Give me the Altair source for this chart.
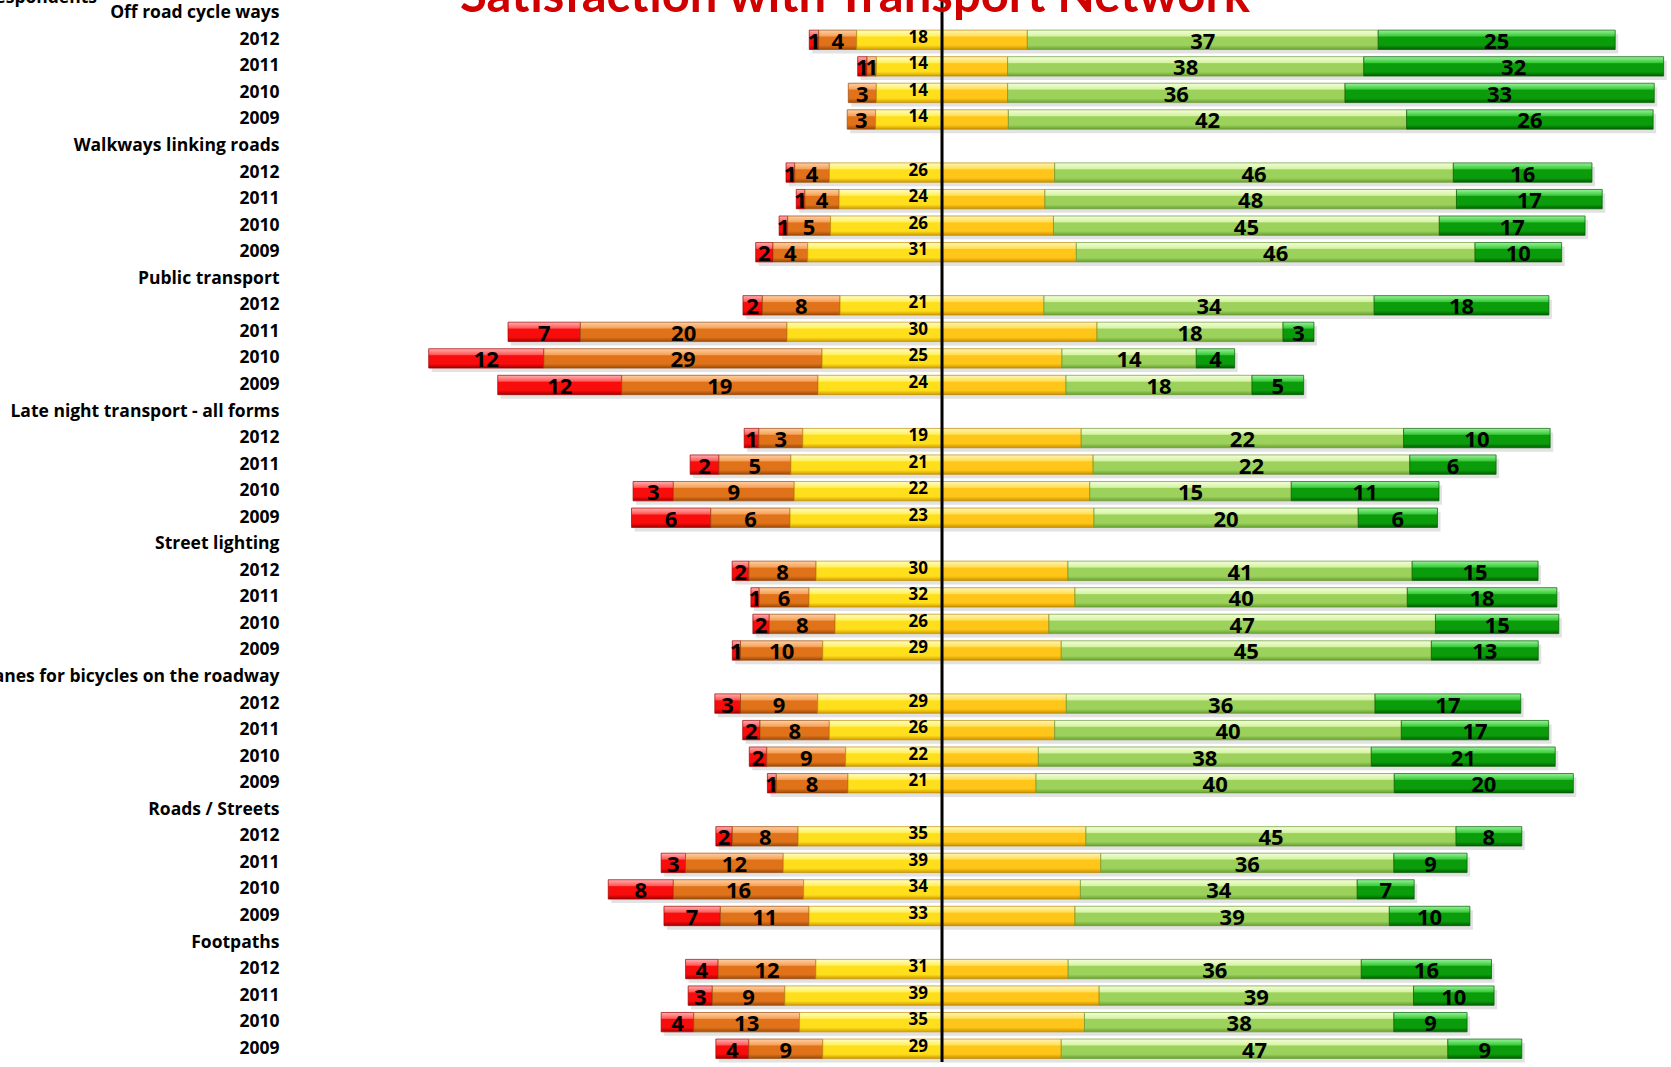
import altair as alt
import pandas as pd

# Survey categories (top to bottom) and survey years within each
categories = [
    "Off road cycle ways",
    "Walkways linking roads",
    "Public transport",
    "Late night transport - all forms",
    "Street lighting",
    "Lanes for bicycles on the roadway",
    "Roads / Streets",
    "Footpaths",
]
years = ["2012", "2011", "2010", "2009"]

# % of respondents per rating, listed category by category, years 2012 -> 2009
very_dissatisfied = [1, 1, 0, 0,   1, 1, 1, 2,   2, 7, 12, 12,   1, 2, 3, 6,
                     2, 1, 2, 1,   3, 2, 2, 1,   2, 3, 8, 7,     4, 3, 4, 4]
dissatisfied = [4, 1, 3, 3,   4, 4, 5, 4,   8, 20, 29, 19,   3, 5, 9, 6,
                8, 6, 8, 10,  9, 8, 9, 8,   8, 12, 16, 11,   12, 9, 13, 9]
neutral = [18, 14, 14, 14,   26, 24, 26, 31,   21, 30, 25, 24,   19, 21, 22, 23,
           30, 32, 26, 29,   29, 26, 22, 21,   35, 39, 34, 33,   31, 39, 35, 29]
satisfied = [37, 38, 36, 42,   46, 48, 45, 46,   34, 18, 14, 18,   22, 22, 15, 20,
             41, 40, 47, 45,   36, 40, 38, 40,   45, 36, 34, 39,   36, 39, 38, 47]
very_satisfied = [25, 32, 33, 26,   16, 17, 17, 10,   18, 3, 4, 5,   10, 6, 11, 6,
                  15, 18, 15, 13,   17, 17, 21, 20,   8, 9, 7, 10,   16, 10, 9, 9]

# Row order on the y axis: a header row for each category followed by its years
row_keys = []
for c in categories:
    row_keys.append(c)
    for y in years:
        row_keys.append(f"{c}|{y}")

# Each bar shows the ratings as shares of those who gave a rating, so every
# bar has the same total length; neutral is split evenly around zero.
segs = []
rows = []
i = 0
for c in categories:
    for y in years:
        key = f"{c}|{y}"
        r, o, n, s, v = (very_dissatisfied[i], dissatisfied[i], neutral[i],
                         satisfied[i], very_satisfied[i])
        k = 100.0 / (r + o + n + s + v)
        h = n / 2
        parts = [
            ("vd", -(h + o + r), -(h + o), r),
            ("d", -(h + o), -h, o),
            ("nl", -h, 0, n),
            ("nr", 0, h, n),
            ("s", h, h + s, s),
            ("vs", h + s, h + s + v, v),
        ]
        for seg, a, b, val in parts:
            if val > 0:
                segs.append({"key": key, "seg": seg, "start": a * k, "end": b * k,
                             "mid": (a + b) / 2 * k, "zero": 0, "val": val})
        rows.append({"key": key, "start": -(h + o + r) * k, "end": (h + s + v) * k})
        i += 1

df = pd.DataFrame(segs)
rows_df = pd.DataFrame(rows)


def grad(top, light, base, dark):
    # bevelled look: bright upper band, flat middle, darker lower edge
    return {
        "gradient": "linear", "x1": 0, "y1": 0, "x2": 0, "y2": 1,
        "stops": [
            {"offset": 0, "color": top},
            {"offset": 0.3, "color": light},
            {"offset": 0.36, "color": base},
            {"offset": 0.78, "color": base},
            {"offset": 1, "color": dark},
        ],
    }


styles = {
    "vd": (grad("#ffb0b0", "#ff5a5a", "#f80c0c", "#a00000"), "#a00000"),
    "d": (grad("#fdd0a4", "#f7a35a", "#e0721a", "#9c4a08"), "#9a4a0c"),
    "nl": (grad("#fffcc8", "#fff25e", "#ffde1c", "#d09c00"), "#c09000"),
    "nr": (grad("#fff4b8", "#ffe056", "#ffc518", "#c99200"), "#b88800"),
    "s": (grad("#f4fdda", "#d6f4a4", "#9cd25c", "#68a030"), "#6a9a36"),
    "vs": (grad("#9af29a", "#3ccc3c", "#0b9c0b", "#005e00"), "#005e00"),
}

LABEL_FONT = "Open Sans"

x_scale = alt.Scale(domain=[-80.9, 90.45], nice=False, zero=False)
y_enc = alt.Y(
    "key:N",
    scale=alt.Scale(domain=row_keys, paddingInner=0.27, paddingOuter=0.135),
    axis=alt.Axis(
        title=None, ticks=False, domain=False, grid=False,
        labelExpr="indexof(datum.label, '|') >= 0 ? split(datum.label, '|')[1] : datum.label",
        labelFont=LABEL_FONT, labelFontWeight="bold", labelFontSize=17.5,
        labelColor="black", labelPadding=11, labelLimit=1000,
    ),
)

# Soft shadow under each whole bar
shadow = (
    alt.Chart(rows_df)
    .mark_bar(color="#7a7a7a", opacity=0.22, xOffset=3, x2Offset=3,
              yOffset=4, y2Offset=4)
    .encode(x=alt.X("start:Q", scale=x_scale, axis=None), x2="end:Q", y=y_enc)
)

base = alt.Chart(df)

layers = [shadow]
for seg, (fill, edge) in styles.items():
    layers.append(
        base.transform_filter(alt.datum.seg == seg)
        .mark_bar(fill=fill, stroke=edge, strokeWidth=1, strokeOpacity=0.7)
        .encode(x=alt.X("start:Q", scale=x_scale, axis=None), x2="end:Q", y=y_enc)
    )

# Values printed in the middle of each outer segment
outer_text = (
    base.transform_filter(alt.FieldOneOfPredicate(field="seg", oneOf=["vd", "d", "s", "vs"]))
    .mark_text(font=LABEL_FONT, fontWeight="bold", fontSize=22, color="black",
               baseline="middle", dy=2)
    .encode(x=alt.X("mid:Q", scale=x_scale, axis=None), y=y_enc, text="val:Q")
)

# Neutral share printed just left of the centre line
neutral_text = (
    base.transform_filter(alt.datum.seg == "nl")
    .mark_text(font=LABEL_FONT, fontWeight="bold", fontSize=17, color="black",
               baseline="middle", align="right", dx=-14, dy=-2)
    .encode(x=alt.X("zero:Q", scale=x_scale, axis=None), y=y_enc, text="val:Q")
)

centre = (
    alt.Chart(pd.DataFrame({"z": [0]}))
    .mark_rule(color="black", strokeWidth=3)
    .encode(x=alt.X("z:Q", scale=x_scale, axis=None))
)

title_text = (
    alt.Chart(pd.DataFrame({"t": ["Satisfaction with Transport Network"]}))
    .mark_text(font="Lato", fontWeight="bold", fontSize=49, color="#d00000",
               align="center", baseline="alphabetic")
    .encode(x=alt.value(565), y=alt.value(12), text="t:N")
)

unit_text = (
    alt.Chart(pd.DataFrame({"t": ["% of respondents"]}))
    .mark_text(font=LABEL_FONT, fontWeight="bold", fontSize=17.5, color="black",
               align="right", baseline="alphabetic")
    .encode(x=alt.value(-193), y=alt.value(3), text="t:N")
)

chart = (
    alt.layer(*layers, outer_text, neutral_text, centre, title_text, unit_text)
    .properties(
        width=1381, height=1062,
        padding={"left": 290, "top": 0, "right": 0, "bottom": 5},
        autosize=alt.AutoSizeParams(type="none"),
        background="white",
    )
    .configure_view(stroke=None)
)

chart.save("out.html", embed_options={"renderer": "svg", "actions": False})
